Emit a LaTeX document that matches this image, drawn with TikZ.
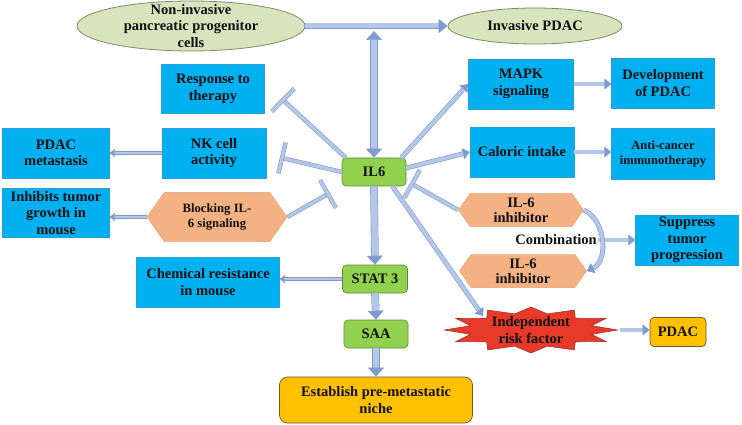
\documentclass[tikz,border=0pt]{standalone}
\usepackage{fontspec}
\setmainfont{Liberation Serif}
\usetikzlibrary{shapes.geometric,shapes.symbols,arrows.meta,calc}
\definecolor{boxblue}{HTML}{00B0F0}
\definecolor{boxblueedge}{HTML}{2A9FD6}
\definecolor{boxgreen}{HTML}{92D050}
\definecolor{greenedge}{HTML}{5B8A32}
\definecolor{boxorange}{HTML}{FFC000}
\definecolor{orangeedge}{HTML}{6E5A2A}
\definecolor{hexfill}{HTML}{F4B183}
\definecolor{hexedge}{HTML}{E3A877}
\definecolor{ellfill}{HTML}{D7E4BD}
\definecolor{elledge}{HTML}{7E8C6A}
\definecolor{starfill}{HTML}{E83A2B}
\definecolor{staredge}{HTML}{A8342A}
\definecolor{arrfill}{HTML}{B4C7E7}
\definecolor{arredge}{HTML}{7F9CD0}
\definecolor{txt}{HTML}{111111}
\begin{document}
\begin{tikzpicture}[x=1pt,y=-1pt,
  base/.style={font=\fontsize{14.5}{16.5}\selectfont\bfseries, align=center, inner sep=1pt, text=txt},
  bluebox/.style={base, rectangle, fill=boxblue, draw=boxblueedge, line width=0.5pt, minimum width=104pt, minimum height=50pt},
  greenbox/.style={base, rectangle, rounded corners=4pt, fill=boxgreen, draw=greenedge, line width=0.6pt, minimum width=64pt, minimum height=28pt},
  orangebox/.style={base, rectangle, fill=boxorange, draw=orangeedge, line width=0.7pt},
  hexa/.style={base, signal, signal to=east and west, signal pointer angle=110, fill=hexfill, draw=hexedge, line width=0.5pt, inner sep=0pt},
  ell/.style={ellipse, fill=ellfill, draw=elledge, line width=0.8pt, inner sep=0pt},
  starnode/.style={star, star points=12, star point ratio=1.38, minimum size=46pt, inner sep=0pt, fill=starfill, draw=staredge, line width=0.6pt, transform shape},
  bigarr/.style={draw=arredge, double=arrfill, line width=0.6pt, double distance=6.5pt, -{Triangle[length=9pt,width=16pt]}},
  toparr/.style={draw=arredge, double=arrfill, line width=0.6pt, double distance=5pt, -{Triangle[length=9pt,width=14pt]}},
  midarr/.style={draw=arredge, double=arrfill, line width=0.6pt, double distance=3.6pt, -{Triangle[length=7pt,width=11pt]}},
  thinarr/.style={draw=arredge, double=arrfill, line width=0.5pt, double distance=2.4pt, -{Triangle[length=5pt,width=8pt]}},
  tline/.style={draw=arredge, double=arrfill, line width=0.6pt, double distance=3.2pt}
]
\useasboundingbox (0,0) rectangle (742,425);

% ellipses
\node[ell, minimum width=228pt, minimum height=50pt,
  label={[base]center:Non-invasive\\pancreatic progenitor\\cells}] (noninv) at (191,26) {};
\node[ell, minimum width=174pt, minimum height=36pt,
  label={[base]center:Invasive PDAC}] (invpdac) at (535,26) {};

% blue boxes
\node[bluebox, minimum width=103pt, minimum height=49pt] (resp) at (213,89) {Response to\\therapy};
\node[bluebox] (nk) at (214,153) {NK cell\\activity};
\node[bluebox, minimum width=107pt] (met) at (56,153) {PDAC\\metastasis};
\node[bluebox, minimum width=107pt, minimum height=49pt] (inhib) at (56,213) {Inhibits tumor\\growth in\\mouse};
\node[bluebox, minimum width=143pt] (chem) at (208,282) {Chemical resistance\\in mouse};
\node[bluebox, minimum width=105pt] (mapk) at (521,84) {MAPK\\signaling};
\node[bluebox, minimum width=103pt] (dev) at (663,83) {Development\\of PDAC};
\node[bluebox] (cal) at (522,152) {Caloric intake};
\node[bluebox, minimum width=103pt, minimum height=51pt, font=\fontsize{12.5}{15}\selectfont\bfseries] (anti) at (663,154) {Anti-cancer\\immunotherapy};
\node[bluebox, minimum width=103pt] (supp) at (687,240) {Suppress\\tumor\\progression};

% hexagons
\node[hexa, minimum width=140pt, minimum height=49pt, font=\fontsize{12.7}{15}\selectfont\bfseries] (block) at (217,217) {Blocking IL-\\6 signaling};
\node[hexa, minimum width=125pt, minimum height=33pt, font=\fontsize{14.5}{15}\selectfont\bfseries] (inh1) at (521,210) {IL-6\\inhibitor};
\node[hexa, minimum width=127pt, minimum height=33pt, font=\fontsize{14.5}{15}\selectfont\bfseries] (inh2) at (523,271) {IL-6\\inhibitor};
\node[base] (comb) at (556,240) {Combination};

% green
\node[greenbox] (il6) at (374,172) {IL6};
\node[greenbox, minimum width=65pt] (stat) at (375,279) {STAT 3};
\node[greenbox] (saa) at (376,334) {SAA};

% orange
\node[orangebox, rounded corners=8pt, minimum width=193pt, minimum height=46pt] (est) at (376,400) {Establish pre-metastatic\\niche};
\node[orangebox, rounded corners=4pt, minimum width=56pt, minimum height=29pt] (pdac) at (678,332) {PDAC};

% star
\begin{scope}[shift={(531,330)}, xscale=3.76]
  \node[starnode] (risk) at (0,0) {};
\end{scope}
\node[base] (risktext) at (risk.center) {Independent\\risk factor};

% free ends
\coordinate (tResp) at (283,100);
\coordinate (tNK) at (282,158);
\coordinate (tBlk) at (328,194);
\coordinate (tInh) at (412,184);
\coordinate (riskin) at (483,316);

% connectors
\draw[bigarr, {Triangle[length=9pt,width=16pt]}-{Triangle[length=9pt,width=16pt]}] (il6.north) -- ($(il6.north |- noninv.east)+(0,5)$);
\draw[toparr] (noninv.east) -- (invpdac.west);
\draw[bigarr] (il6.south) -- (stat.north);
\draw[bigarr] (stat.south) -- (saa.north);
\draw[bigarr] (saa.south) -- (est.north);
\draw[thinarr] (stat.west) -- (stat.west -| chem.east);
\draw[thinarr] (nk.west) -- (met.east);
\draw[thinarr] (block.west) -- (block.west -| inhib.east);
\draw[midarr] (mapk.east) -- (mapk.east -| dev.west);
\draw[midarr] (cal.east) -- (cal.east -| anti.west);
\draw[midarr] (comb.east) -- (comb.east -| supp.west);
\draw[midarr] (risk.east) -- (risk.east -| pdac.west);
\draw[midarr] ($(il6.north east)+(-5,0)$) -- (mapk.west);
\draw[midarr] ($(il6.east)+(0,-4)$) -- (cal.west);
\draw[midarr] ($(il6.south east)+(-14,0)$) -- (riskin);
\draw[midarr] (inh1.east) .. controls +(22,10) and +(22,-10) .. (inh2.east);

% inhibition lines
\draw[tline] ($(il6.north west)+(4,0)$) -- (tResp);
\draw[tline] ($(tResp)!16pt!90:(il6.north west)$) -- ($(tResp)!16pt!-90:(il6.north west)$);
\draw[tline] (il6.west) -- (tNK);
\draw[tline] ($(tNK)!16pt!90:(il6.west)$) -- ($(tNK)!16pt!-90:(il6.west)$);
\draw[tline] (block.east) -- (tBlk);
\draw[tline] ($(tBlk)!16pt!90:(block.east)$) -- ($(tBlk)!16pt!-90:(block.east)$);
\draw[tline] (inh1.west) -- (tInh);
\draw[tline] ($(tInh)!16pt!90:(inh1.west)$) -- ($(tInh)!16pt!-90:(inh1.west)$);
\end{tikzpicture}
\end{document}
